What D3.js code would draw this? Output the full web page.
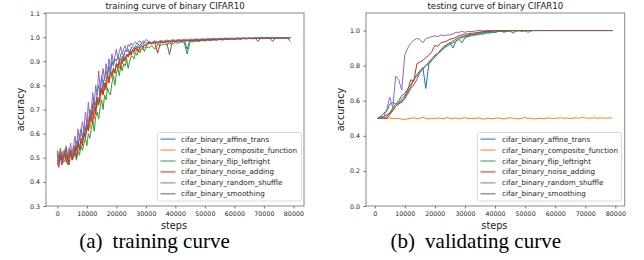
<!DOCTYPE html>
<html>
<head>
<meta charset="utf-8">
<script src="https://cdn.jsdelivr.net/npm/d3@7"></script>
<style>
  body { margin: 0; background: #fff; }
  svg text { font-family: "DejaVu Sans", sans-serif; fill: #222; }
</style>
</head>
<body>
<svg id="chart" width="644" height="260"></svg>
<script>
const seriesNames = [
  "cifar_binary_affine_trans",
  "cifar_binary_composite_function",
  "cifar_binary_flip_leftright",
  "cifar_binary_noise_adding",
  "cifar_binary_random_shuffle",
  "cifar_binary_smoothing",
];
const colors = ["#1f77b4", "#ff7f0e", "#2ca02c", "#d62728", "#9467bd", "#8c564b"];

// training curve
const trainSteps = [
  0, 500, 1000, 1500, 2000, 2500, 3000, 3500, 4000, 4500, 5000, 5500, 6000, 6500, 7000, 7500,
  8000, 8500, 9000, 9500, 10000, 10500, 11000, 11500, 12000, 12500, 13000, 13500, 14000, 14500,
  15000, 15500, 16000, 16500, 17000, 17500, 18000, 18500, 19000, 19500, 20000, 20500, 21000,
  21500, 22000, 22500, 23000, 23500, 24000, 24500, 25000, 25500, 26000, 26500, 27000, 27500,
  28000, 28500, 29000, 29500, 30000,
  31000, 32000, 33000, 34000, 35000, 36000, 37000, 38000, 39000, 40000, 41000, 42000, 43000,
  44000, 45000, 46000, 47000, 48000, 49000, 50000, 51000, 52000, 53000, 54000, 55000, 56000,
  57000, 58000, 59000, 60000, 61000, 62000, 63000, 64000, 65000, 66000, 67000, 68000, 69000,
  70000, 71000, 72000, 73000, 74000, 75000, 76000, 77000, 78000, 79000,
];
const trainAffine = [
  .53, .50, .51, .49, .52, .53, .50, .51, .54, .52, .51,
  .55, .53, .57, .55, .59, .62, .58, .63, .61, .66,
  .64, .70, .68, .72, .75, .71, .77, .80, .76, .84,
  .81, .83, .86, .84, .88, .85, .90, .88, .91, .90,
  .92, .90, .93, .935, .92, .945, .94, .95, .93, .955,
  .96, .95, .965, .955, .97, .965, .975, .97, .98, .975,
  .978, .975, .98, .977, .982, .979, .984, .981, .985, .983, .986, .985, .987, .95, .988, .987, .989,
  .988, .99, .989, .991, .99, .992, .991, .993, .992, .994, .993, .994, .993, .995, .994, .995, .994,
  .996, .995, .996, .982, .997, .996, .997, .996, .982, .997, .998, .997, .998, .997, .998,
];
const trainComposite = [
  .50, .52, .49, .51, .53, .50, .52, .50, .53, .51, .52,
  .54, .52, .55, .56, .54, .58, .56, .60, .59, .62,
  .65, .62, .67, .70, .66, .72, .71, .75, .73, .78,
  .76, .80, .78, .82, .81, .84, .83, .86, .85, .88,
  .89, .87, .90, .895, .91, .90, .92, .915, .93, .925,
  .94, .93, .945, .94, .95, .945, .955, .95, .96, .955,
  .975, .972, .977, .974, .979, .977, .981, .979, .983, .981, .984, .983, .985, .984, .986, .985, .987,
  .986, .988, .987, .989, .988, .99, .989, .991, .99, .992, .991, .993, .992, .993, .992, .994, .993,
  .994, .993, .995, .994, .995, .994, .996, .995, .996, .995, .996, .996, .997, .996, .997,
];
const trainFlip = [
  .49, .47, .50, .52, .48, .49, .51, .47, .50, .52, .49,
  .50, .52, .49, .53, .51, .55, .53, .56, .58, .55,
  .60, .58, .62, .65, .61, .67, .69, .66, .71, .74,
  .70, .76, .74, .79, .77, .76, .81, .84, .80, .85,
  .87, .84, .88, .86, .89, .88, .91, .87, .90, .92,
  .92, .91, .935, .925, .945, .935, .95, .955, .94, .96,
  .955, .965, .95, .97, .965, .972, .968, .975, .972, .978, .975, .98, .978, .93, .982, .98, .984,
  .982, .986, .984, .987, .986, .988, .987, .99, .988, .991, .99, .992, .991, .993, .992, .994, .993,
  .995, .994, .995, .994, .996, .995, .996, .995, .997, .996, .997, .996, .997, .996, .997,
];
const trainNoise = [
  .48, .46, .51, .47, .50, .52, .48, .50, .47, .53, .49,
  .51, .54, .50, .56, .53, .57, .55, .60, .58, .63,
  .61, .66, .69, .64, .71, .68, .74, .72, .76, .79,
  .76, .81, .79, .84, .82, .86, .84, .87, .85, .89,
  .88, .90, .87, .92, .90, .91, .93, .92, .94, .925,
  .95, .94, .955, .95, .94, .96, .965, .955, .97, .965,
  .976, .973, .978, .934, .98, .978, .982, .98, .984, .982, .985, .983, .986, .985, .987, .986, .988,
  .987, .989, .988, .99, .989, .991, .99, .992, .991, .993, .992, .994, .993, .994, .993, .995, .994,
  .995, .994, .996, .995, .996, .995, .997, .996, .997, .996, .997, .996, .997, .997, .998,
];
const trainShuffle = [
  .52, .47, .54, .51, .49, .53, .55, .50, .52, .56, .51,
  .55, .59, .53, .62, .57, .60, .65, .61, .69, .64,
  .73, .66, .70, .77, .72, .80, .76, .86, .79, .83,
  .87, .82, .89, .85, .91, .87, .93, .89, .92, .95,
  .91, .94, .96, .93, .95, .965, .94, .97, .96, .975,
  .965, .975, .98, .97, .98, .985, .975, .985, .98, .99,
  .982, .978, .985, .980, .986, .983, .988, .985, .989, .987, .990, .988, .991, .989, .992, .990, .993,
  .991, .993, .992, .994, .993, .995, .993, .995, .994, .996, .995, .996, .995, .997, .996, .997, .996,
  .997, .996, .998, .997, .998, .997, .998, .997, .998, .997, .998, .998, .998, .997, .998,
];
const trainSmoothing = [
  .51, .48, .53, .49, .50, .52, .54, .49, .51, .53, .50,
  .52, .55, .53, .57, .54, .58, .57, .61, .59, .64,
  .62, .67, .65, .70, .73, .69, .75, .72, .78, .77,
  .81, .78, .82, .85, .81, .86, .84, .87, .86, .89,
  .87, .90, .91, .89, .92, .905, .93, .92, .94, .935,
  .945, .94, .955, .945, .96, .955, .965, .96, .97, .965,
  .977, .974, .979, .976, .981, .978, .983, .927, .984, .982, .985, .984, .986, .985, .987, .986, .988,
  .987, .989, .988, .99, .989, .991, .99, .992, .991, .993, .992, .993, .992, .994, .993, .995, .994,
  .995, .994, .996, .995, .996, .995, .996, .995, .997, .996, .997, .996, .997, .996, .982,
];

// testing curve
const testSteps = [
  1000, 2000, 3000, 4000, 5000, 6000, 7000, 8000, 9000, 10000, 11000, 12000, 13000, 14000, 15000,
  16000, 17000, 18000, 19000, 20000, 21000, 22000, 23000, 24000, 25000, 26000, 27000, 28000, 29000,
  30000, 31000, 32000, 33000, 34000, 35000, 36000, 37000, 38000, 39000, 40000, 41000, 42000, 43000,
  44000, 45000, 46000, 47000, 48000, 49000, 50000, 51000, 52000, 53000, 54000, 55000, 56000, 57000,
  58000, 59000, 60000, 61000, 62000, 63000, 64000, 65000, 66000, 67000, 68000, 69000, 70000, 71000,
  72000, 73000, 74000, 75000, 76000, 77000, 78000, 79000,
];
const testAffine = [
  .50, .51, .53, .54, .58, .59, .58, .60, .63, .64, .67, .69, .72, .75, .77, .79, .67, .81, .83, .85,
  .87, .89, .91, .92, .93, .90, .94, .95, .93, .96, .965, .97, .975, .975, .98, .98, .985, .99, .99, .99,
  .995, .995, .995, .997, .998, .985, .998, 1, 1, 1, 1, 1, 1, 1, 1, 1, 1, 1, 1, 1,
  1, 1, 1, 1, 1, 1, 1, 1, 1, 1, 1, 1, 1, 1, 1, 1, 1, 1, 1,
];
const testComposite = [
  .505, .50, .498, .50, .502, .497, .50, .499, .495, .493, .497, .50, .503, .497, .50, .505, .50, .496, .50, .498,
  .502, .50, .497, .505, .50, .498, .502, .496, .50, .503, .499, .50, .497, .502, .50, .495, .498, .50, .497, .50,
  .502, .499, .496, .50, .503, .50, .498, .497, .50, .505, .498, .50, .496, .499, .50, .497, .50, .502, .499, .50,
  .501, .503, .50, .502, .499, .501, .503, .50, .505, .502, .50, .501, .503, .50, .502, .501, .50, .503, .50,
];
const testFlip = [
  .50, .50, .50, .51, .53, .56, .58, .59, .61, .63, .65, .68, .72, .74, .76, .78, .80, .81, .83, .85,
  .87, .88, .90, .91, .92, .93, .94, .95, .96, .965, .97, .975, .975, .98, .985, .985, .99, .985, .99, .99,
  .995, .995, .99, .995, .997, .998, .998, .998, .995, .998, .99, .998, 1, 1, 1, 1, 1, 1, 1, 1,
  1, 1, 1, 1, 1, 1, 1, 1, 1, 1, 1, 1, 1, 1, 1, 1, 1, 1, 1,
];
const testNoise = [
  .50, .51, .50, .50, .52, .55, .57, .585, .59, .62, .66, .72, .71, .81, .82, .83, .845, .86, .88, .915,
  .91, .93, .935, .94, .95, .955, .96, .97, .975, .98, .98, .985, .985, .99, .99, .995, .995, .995, .998, .998,
  1, 1, 1, 1, 1, 1, 1, 1, 1, 1, 1, 1, 1, 1, 1, 1, 1, 1, 1, 1,
  1, 1, 1, 1, 1, 1, 1, 1, 1, 1, 1, 1, 1, 1, 1, 1, 1, 1, 1,
];
const testShuffle = [
  .50, .505, .51, .55, .62, .56, .74, .72, .66, .86, .90, .93, .945, .955, .95, .93, .955, .96, .965, .97,
  .965, .975, .97, .975, .975, .98, .99, .99, .995, .99, .995, .995, .995, 1, 1, .998, 1, 1, 1, 1,
  1, 1, 1, 1, 1, 1, 1, 1, 1, 1, 1, 1, 1, 1, 1, 1, 1, 1, 1, 1,
  1, 1, 1, 1, 1, 1, 1, 1, 1, 1, 1, 1, 1, 1, 1, 1, 1, 1, 1,
];
const testSmoothing = [
  .50, .50, .51, .52, .53, .54, .57, .58, .60, .61, .64, .67, .69, .72, .76, .78, .80, .82, .84, .86,
  .87, .89, .90, .92, .93, .94, .95, .96, .965, .97, .975, .98, .98, .985, .99, .99, .995, .995, .995, .998,
  1, 1, 1, 1, 1, 1, 1, 1, 1, 1, 1, 1, 1, 1, 1, 1, 1, 1, 1, 1,
  1, 1, 1, 1, 1, 1, 1, 1, 1, 1, 1, 1, 1, 1, 1, 1, 1, 1, 1,
];

const xTicks = [0, 10000, 20000, 30000, 40000, 50000, 60000, 70000, 80000];
const trainYTicks = [0.3, 0.4, 0.5, 0.6, 0.7, 0.8, 0.9, 1.0, 1.1];
const testYTicks = [0.0, 0.2, 0.4, 0.6, 0.8, 1.0];

const svg = d3.select("#chart");
svg.append("rect").attr("width", 644).attr("height", 260).attr("fill", "#fff");

const drawPanel = (p) => {
  const x = d3.scaleLinear().domain(p.xDomain).range([p.left, p.right]);
  const y = d3.scaleLinear().domain(p.yDomain).range([p.bottom, p.top]);
  const g = svg.append("g");

  g.append("clipPath")
    .attr("id", p.id)
    .append("rect")
    .attr("x", p.left)
    .attr("y", p.top)
    .attr("width", p.right - p.left)
    .attr("height", p.bottom - p.top);

  const line = d3
    .line()
    .x((d) => x(d[0]))
    .y((d) => y(d[1]));

  g.append("g")
    .attr("clip-path", `url(#${p.id})`)
    .selectAll("path")
    .data(p.series)
    .join("path")
    .attr("fill", "none")
    .attr("stroke", (d, i) => colors[i])
    .attr("stroke-width", 1)
    .attr("stroke-linejoin", "round")
    .attr("d", (d) => line(d3.zip(p.steps, d)));

  const xAxis = g
    .append("g")
    .attr("transform", `translate(0,${p.bottom})`)
    .call(
      d3.axisBottom(x).tickValues(xTicks).tickFormat(d3.format("d")).tickSize(2.5).tickPadding(3.5)
    );
  const yAxis = g
    .append("g")
    .attr("transform", `translate(${p.left},0)`)
    .call(
      d3.axisLeft(y).tickValues(p.yTicks).tickFormat(d3.format(".1f")).tickSize(2.5).tickPadding(3.5)
    );
  [xAxis, yAxis].forEach((a) => {
    a.select(".domain").remove();
    a.selectAll("line").attr("stroke", "#444").attr("stroke-width", 0.8);
    a.selectAll("text")
      .attr("font-size", 6.3)
      .attr("fill", "#222")
      .attr("font-family", "DejaVu Sans");
  });

  // frame
  g.append("rect")
    .attr("x", p.left)
    .attr("y", p.top)
    .attr("width", p.right - p.left)
    .attr("height", p.bottom - p.top)
    .attr("fill", "none")
    .attr("stroke", "#888")
    .attr("stroke-width", 1);

  g.append("text")
    .attr("x", (p.left + p.right) / 2)
    .attr("y", 8.5)
    .attr("text-anchor", "middle")
    .attr("font-size", 8.6)
    .text(p.title);

  g.append("text")
    .attr("x", (p.left + p.right) / 2 - 1)
    .attr("y", 228.5)
    .attr("text-anchor", "middle")
    .attr("font-size", 9.7)
    .text("steps");

  g.append("text")
    .attr("transform", `translate(${p.left - 22},${(p.top + p.bottom) / 2}) rotate(-90)`)
    .attr("text-anchor", "middle")
    .attr("font-size", 9.7)
    .text("accuracy");

  // legend
  const lg = g.append("g").attr("transform", `translate(${p.legendX},132.5)`);
  lg.append("rect")
    .attr("width", 144)
    .attr("height", 68.5)
    .attr("rx", 2)
    .attr("fill", "#fff")
    .attr("fill-opacity", 0.8)
    .attr("stroke", "#d0d0d0")
    .attr("stroke-width", 0.8);
  const rows = lg
    .selectAll("g.row")
    .data(seriesNames)
    .join("g")
    .attr("class", "row")
    .attr("transform", (d, i) => `translate(0,${6.6 + i * 10.95})`);
  rows
    .append("line")
    .attr("x1", 3)
    .attr("x2", 18)
    .attr("stroke", (d, i) => colors[i])
    .attr("stroke-width", 1);
  rows
    .append("text")
    .attr("x", p.legendText)
    .attr("dy", "0.35em")
    .attr("font-size", 7.2)
    .text((d) => d);

  // caption under the panel
  const cap = svg
    .append("text")
    .attr("x", p.captionX)
    .attr("y", 248)
    .attr("text-anchor", "middle")
    .attr("font-size", 21)
    .style("font-family", "'Liberation Serif', 'Times New Roman', serif")
    .style("fill", "#000");
  cap.append("tspan").text(p.caption[0]);
  cap.append("tspan").attr("dx", 10).text(p.caption[1]);
};

drawPanel({
  id: "clipTrain",
  left: 46,
  right: 304,
  top: 13,
  bottom: 206,
  xDomain: [-3850, 83600],
  yDomain: [0.3, 1.1],
  yTicks: trainYTicks,
  steps: trainSteps,
  series: [trainAffine, trainComposite, trainFlip, trainNoise, trainShuffle, trainSmoothing],
  title: "training curve of binary CIFAR10",
  legendX: 157.5,
  legendText: 23.5,
  caption: ["(a)", "training curve"],
  captionX: 154.5,
});

drawPanel({
  id: "clipTest",
  left: 366,
  right: 624.7,
  top: 13,
  bottom: 206,
  xDomain: [-2890, 83100],
  yDomain: [0, 1.1],
  yTicks: testYTicks,
  steps: testSteps,
  series: [testAffine, testComposite, testFlip, testNoise, testShuffle, testSmoothing],
  title: "testing curve of binary CIFAR10",
  legendX: 477.5,
  legendText: 24.5,
  caption: ["(b)", "validating curve"],
  captionX: 475.8,
});
</script>
</body>
</html>
